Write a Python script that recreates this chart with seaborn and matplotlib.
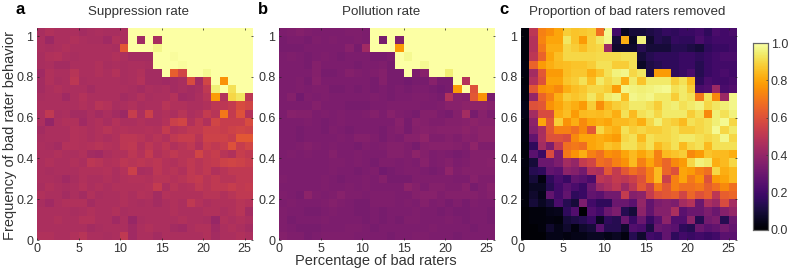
import matplotlib.pyplot as plt
import numpy as np
import seaborn as sns

plt.rcParams['font.family'] = ['Liberation Sans', 'DejaVu Sans']

# rows go from the top of the picture (y = 1.0) down to y = 0, values in percent
suppression = [
 [45,47,46,46,46,44,45,46,45,45,46,100,100,100,100,100,100,100,100,100,100,100,100,100,100,100],
 [46,42,46,46,47,46,45,45,43,47,46,100,43,100,45,100,100,100,100,100,100,100,100,100,100,100],
 [46,45,46,47,46,46,46,46,46,45,62,100,100,100,97,100,100,100,100,100,100,100,100,100,100,100],
 [45,47,48,46,45,46,46,46,46,47,46,44,44,44,100,100,99,100,100,100,100,100,100,100,100,100],
 [45,46,44,44,46,46,46,47,45,46,45,46,46,45,100,100,100,99,100,100,100,100,100,100,100,100],
 [43,47,46,46,49,46,46,47,46,48,45,46,47,44,44,100,64,56,100,100,98,100,100,100,100,100],
 [44,47,45,46,50,45,46,46,46,46,45,46,48,44,44,43,44,45,58,44,56,100,76,100,100,100],
 [44,46,47,46,46,46,44,46,46,46,46,45,44,46,45,46,44,45,44,45,51,95,100,92,100,100],
 [45,46,46,43,46,48,46,46,46,46,44,45,47,45,46,46,48,43,44,46,49,78,48,90,93,50],
 [46,46,46,46,46,47,46,49,48,45,46,47,45,46,46,49,47,47,46,46,47,50,50,52,58,56],
 [46,51,45,46,44,44,46,44,46,44,42,53,46,54,46,47,46,49,46,47,52,49,70,52,60,48],
 [46,40,46,47,47,43,46,47,45,48,46,46,47,46,46,48,54,56,47,51,47,56,53,53,53,58],
 [44,46,46,46,48,47,46,47,49,47,48,47,47,48,47,52,48,49,51,51,54,54,53,55,56,55],
 [45,46,46,46,48,47,46,47,46,47,50,50,49,47,49,47,51,53,53,49,55,55,55,53,62,62],
 [46,45,44,48,48,47,48,49,48,47,50,51,47,50,48,50,47,49,51,47,53,51,53,60,53,56],
 [46,46,47,46,46,47,44,43,46,47,47,50,48,52,47,49,51,49,49,56,51,53,49,47,53,51],
 [46,47,46,46,47,46,50,49,47,48,50,49,50,49,50,48,47,49,51,49,51,52,55,56,55,53],
 [46,45,46,46,46,47,47,47,48,46,48,54,45,46,50,48,49,47,51,49,51,47,49,51,51,51],
 [46,46,45,43,45,47,46,46,47,46,47,48,48,47,49,49,48,49,51,52,49,51,49,49,51,51],
 [45,47,46,45,46,48,46,47,46,47,47,47,47,48,52,46,49,47,48,51,49,51,51,53,51,52],
 [47,46,46,44,46,44,47,45,46,46,47,46,48,47,44,48,47,47,47,47,49,49,47,49,51,51],
 [45,43,46,47,47,47,44,46,46,46,47,46,45,46,44,46,47,46,51,48,46,47,47,47,49,48],
 [46,46,46,46,45,46,47,46,46,47,45,46,46,46,46,46,47,46,46,46,47,47,46,47,49,44],
 [46,46,47,46,46,48,48,46,46,43,46,41,45,46,46,46,46,47,46,46,45,41,47,46,47,46],
 [46,46,46,46,46,46,44,45,46,46,46,43,46,47,46,46,44,43,46,47,47,43,46,47,46,44],
 [47,47,46,46,47,49,46,46,45,46,51,43,46,46,44,46,46,46,46,46,47,44,46,46,47,46],
]
pollution = [
 [34,35,36,35,34,34,34,34,35,35,34,100,100,100,100,100,100,100,100,100,100,100,100,100,100,100],
 [33,34,34,33,35,34,35,34,34,35,34,100,33,100,35,100,100,100,100,100,100,100,100,100,100,100],
 [33,33,33,34,34,34,34,34,37,33,43,100,100,100,78,100,100,100,100,100,100,100,100,100,100,100],
 [34,35,34,33,34,35,34,33,34,34,34,33,33,34,100,98,100,100,100,100,100,100,100,100,100,100],
 [34,34,34,33,36,34,34,34,34,33,34,34,35,33,100,100,100,98,100,100,100,100,100,100,100,100],
 [34,34,34,34,36,33,33,34,36,35,34,35,36,33,33,100,34,37,100,100,95,100,100,100,100,100],
 [34,34,35,33,37,34,34,34,34,34,34,33,36,33,33,32,33,33,37,33,33,100,48,100,100,100],
 [34,34,35,34,35,35,33,33,34,33,34,33,34,33,34,33,34,34,33,32,33,78,100,60,100,100],
 [34,36,32,35,34,35,34,34,34,34,34,35,34,33,34,34,35,35,34,33,47,37,36,62,76,33],
 [34,34,34,34,36,34,34,34,33,33,33,34,34,35,35,35,35,34,34,35,37,37,38,38,38,37],
 [34,37,36,36,34,35,34,35,34,34,35,36,34,37,35,34,33,36,36,34,33,36,44,33,37,34],
 [34,34,34,35,34,33,34,35,34,34,34,34,34,34,37,33,37,36,35,35,36,36,37,38,37,37],
 [34,34,33,34,34,33,35,34,33,34,34,34,33,35,36,33,36,37,36,37,37,37,38,37,38,38],
 [34,34,33,34,34,34,34,35,34,36,36,35,33,35,34,37,37,39,35,35,36,35,37,36,38,38],
 [34,34,35,36,35,34,35,34,34,33,35,34,35,36,36,35,33,36,37,37,37,36,35,39,35,35],
 [34,35,34,35,34,34,36,34,34,35,34,34,34,36,36,35,38,36,34,35,34,33,34,36,36,36],
 [34,34,34,34,34,34,35,35,34,35,34,33,35,35,34,35,34,37,34,35,36,34,35,36,36,37],
 [34,34,34,34,34,34,35,34,34,33,34,35,32,33,34,35,35,34,33,34,39,35,36,36,36,36],
 [35,34,34,34,34,35,34,33,34,34,35,34,36,33,33,33,35,35,35,35,35,34,34,37,35,35],
 [34,34,34,34,34,35,34,34,35,34,35,34,34,34,34,38,36,34,36,36,35,35,37,33,35,37],
 [35,34,33,38,35,34,35,37,35,35,34,35,35,35,34,34,36,37,37,35,36,36,36,36,35,36],
 [34,35,34,34,34,35,36,35,34,33,33,35,35,35,34,35,34,36,34,35,33,35,33,35,34,34],
 [35,34,34,33,33,34,35,34,34,33,33,34,33,34,34,34,35,34,34,33,34,33,33,34,34,33],
 [35,33,34,34,34,35,34,34,34,34,33,34,33,34,33,35,35,34,34,34,35,34,33,34,34,33],
 [35,34,33,33,33,34,34,34,35,35,34,33,34,34,34,34,34,34,35,34,34,34,34,33,34,34],
 [36,35,35,33,34,35,35,35,35,34,34,34,34,33,34,34,35,35,34,34,34,33,34,34,34,34],
]
removed = [
 [2,50,72,75,80,88,86,87,88,68,98,20,6,10,10,12,14,17,16,18,18,20,16,22,20,22],
 [2,48,73,80,80,93,86,78,89,93,97,10,82,6,96,8,14,12,17,16,16,22,18,20,20,20],
 [2,48,70,82,82,90,88,85,89,90,42,8,8,8,14,10,10,10,14,14,12,10,16,18,18,20],
 [2,50,65,80,85,90,90,90,90,91,91,91,92,92,10,14,16,16,16,18,18,16,18,20,22,22],
 [3,65,78,82,84,85,86,86,88,92,92,88,88,92,7,12,14,16,16,18,18,14,18,20,20,20],
 [3,44,62,78,78,85,87,87,82,86,92,96,97,90,93,12,78,78,16,18,22,14,18,20,22,20],
 [2,48,60,80,80,86,88,92,85,94,90,93,82,94,86,94,94,94,88,92,84,16,22,20,20,22],
 [3,62,75,77,74,82,85,87,90,90,88,78,97,96,95,96,97,98,92,94,88,22,24,42,22,24],
 [3,40,65,72,82,88,86,88,93,88,94,96,85,97,96,97,94,94,88,94,92,70,92,74,42,97],
 [4,60,62,76,80,84,82,78,88,75,84,88,90,94,94,92,88,94,95,92,94,96,90,93,95,97],
 [4,44,58,58,82,85,78,84,85,84,86,82,92,84,92,94,90,94,94,94,88,92,74,95,92,96],
 [3,38,80,62,88,76,82,74,80,82,80,84,84,86,82,90,95,90,88,84,92,90,92,95,98,90],
 [3,36,45,62,72,72,68,74,62,90,84,82,92,88,90,88,88,90,92,88,88,90,92,98,90,94],
 [3,28,46,60,60,58,74,80,80,82,80,78,90,92,84,92,90,90,92,94,94,92,90,92,97,90],
 [2,16,44,34,52,68,70,68,80,82,86,84,92,92,88,92,84,88,92,84,90,92,84,92,92,92],
 [2,26,18,58,34,70,76,82,72,68,76,74,80,84,80,84,72,84,86,88,74,78,86,84,84,82],
 [3,10,30,30,34,44,40,52,56,68,66,72,76,84,72,80,72,66,74,78,90,96,94,82,84,90],
 [2,14,16,28,26,38,36,32,48,46,62,52,62,68,64,72,84,66,60,80,78,72,68,90,82,84],
 [2,10,3,16,22,18,28,26,22,50,48,52,50,54,60,72,84,54,72,80,70,76,60,78,80,84],
 [2,6,6,14,20,26,22,18,30,42,46,50,42,50,62,54,70,62,72,68,68,70,64,68,74,68],
 [2,8,4,28,20,28,16,18,28,26,32,32,52,36,38,52,60,62,64,56,66,60,64,50,64,66],
 [2,10,6,10,22,14,10,34,20,16,16,30,30,26,40,28,34,36,34,44,48,30,46,42,58,44],
 [1,2,2,4,5,16,24,0,24,20,30,34,14,10,38,28,36,36,46,26,30,30,34,30,36,40],
 [1,2,2,3,2,10,12,14,18,6,16,14,30,18,30,18,26,38,24,24,38,14,32,34,14,30],
 [1,1,2,8,4,8,3,8,10,26,14,14,8,24,22,12,30,28,26,16,14,30,26,28,32,28],
 [1,1,1,4,4,3,4,4,6,6,4,6,3,14,8,20,18,28,16,20,18,20,18,20,26,26],
]
x_ticks = [0, 5, 10, 15, 20, 25]
y_ticks = [0, 0.2, 0.4, 0.6, 0.8, 1]
y_labels = ['0', '0.2', '0.4', '0.6', '0.8', '1']
cbar_ticks = [0, 0.2, 0.4, 0.6, 0.8, 1]
titles = ['Suppression rate', 'Pollution rate', 'Proportion of bad raters removed']
title_x = [139, 381, 627]
letters = ['a', 'b', 'c']
letter_x = [20, 263, 504]

W, H = 793, 273
TXT = '#333333'
def box(x0, y0, x1, y1):
    return [x0 / W, 1 - y1 / H, (x1 - x0) / W, (y1 - y0) / H]

fig = plt.figure(figsize=(W / 100, H / 100), dpi=100)
cax = fig.add_axes(box(753, 43, 768, 230))
lefts = [37, 279, 521]
for i, m in enumerate([suppression, pollution, removed]):
    ax = fig.add_axes(box(lefts[i], 28, lefts[i] + 216, 240))
    sns.heatmap(np.array(m) / 100, ax=ax, cmap='inferno', vmin=0, vmax=1,
                cbar=i == 2, cbar_ax=cax if i == 2 else None)
    ax.set_xticks(x_ticks)
    ax.set_xticklabels(x_ticks, rotation=0)
    ax.set_yticks([26 - v * 25 for v in y_ticks])
    ax.set_yticklabels(y_labels, rotation=0, va='center_baseline')
    ax.tick_params(length=1.5, width=0.5, direction='in', labelsize=9, pad=2.5,
                   labelcolor=TXT, color='#222222', top=True, right=True)
    fig.text(title_x[i] / W, 1 - 12 / H, titles[i], fontsize=9.6, color=TXT, ha='center', va='center')
    fig.text(letter_x[i] / W, 1 - 10 / H, letters[i], fontsize=12, fontweight='bold',
             ha='center', va='center')

cax.set_yticks(cbar_ticks)
cax.set_yticklabels(['0.0', '0.2', '0.4', '0.6', '0.8', '1.0'], va='center_baseline')
cax.tick_params(length=1.5, width=0.5, direction='in', labelsize=9, pad=2,
                labelcolor=TXT, color='#333333', right=True)
for s in cax.spines.values():
    s.set_visible(True)
    s.set_linewidth(0.8)
    s.set_color('#666666')

fig.text(376 / W, 1 - 261 / H, 'Percentage of bad raters', fontsize=10.5, color=TXT, ha='center', va='center')
fig.text(10 / W, 1 - 136 / H, 'Frequency of bad rater behavior', fontsize=10.5, color=TXT,
         rotation=90, ha='center', va='center')

fig.savefig('out.png', dpi=100)
